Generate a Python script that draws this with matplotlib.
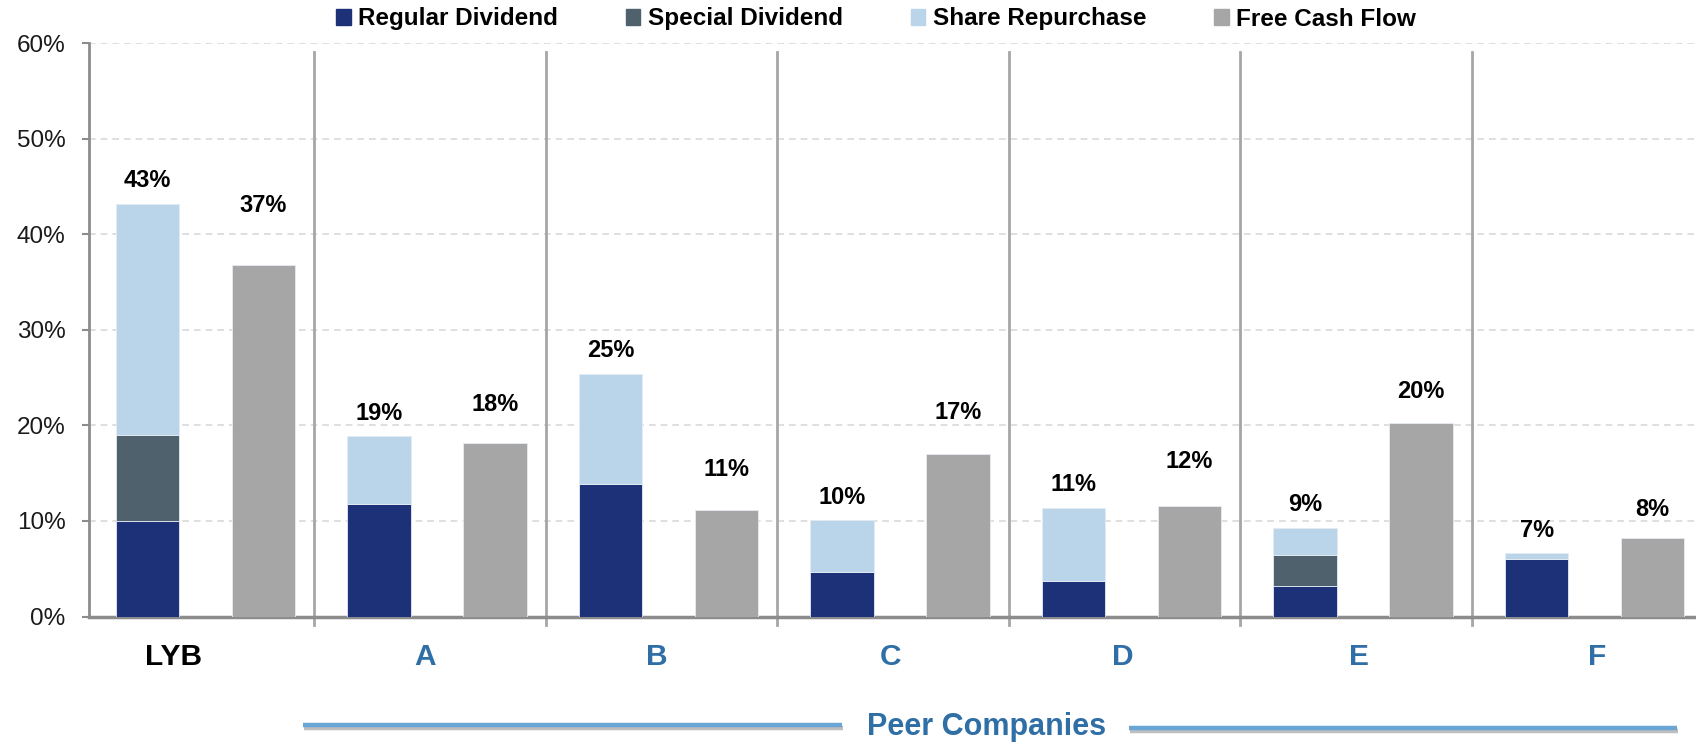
import numpy as np
import matplotlib
matplotlib.use("Agg")
import matplotlib.pyplot as plt
from matplotlib.patches import Patch
from matplotlib.lines import Line2D
import matplotlib.patheffects as pe

plt.rcParams.update({
    "font.family": ["Liberation Sans", "DejaVu Sans"],
    "figure.dpi": 100,
})

NAVY = "#1C3177"
SLATE = "#4F616D"
LIGHT = "#BAD5EA"
GRAY = "#A6A6A6"
BLUE_TXT = "#2F6FA6"
PEER_LINE = "#6AA6D5"

companies = ["LYB", "A", "B", "C", "D", "E", "F"]
regular = [10.0, 11.8, 13.9, 4.7, 3.7, 3.2, 6.0]
special = [9.0, 0.0, 0.0, 0.0, 0.0, 3.2, 0.0]
repurchase = [24.2, 7.1, 11.5, 5.4, 7.7, 2.9, 0.6]
fcf = [36.8, 18.2, 11.2, 17.0, 11.6, 20.3, 8.2]

# label gaps above each bar (in % units)
stack_gap = 2.4
fcf_gap = [6.2, 4.0, 4.2, 4.4, 4.6, 3.2, 3.0]
cat_dx = [-0.14, -0.05, -0.05, -0.04, -0.04, -0.02, 0.01]

W, H = 1696, 742
fig = plt.figure(figsize=(W / 100, H / 100), dpi=100)
ax = fig.add_axes([89 / W, 1 - 616.5 / H, 1 - 89 / W, (616.5 - 43.3) / H])

x = np.arange(len(companies))
bw = 0.274
off = 0.25
reg = np.array(regular)
spc = np.array(special)
rep = np.array(repurchase)

kw = dict(width=bw, edgecolor="#E4ECF3", linewidth=0.6, zorder=3)
ax.bar(x - off, reg, color=NAVY, **kw)
ax.bar(x - off, spc, bottom=reg, color=SLATE, **kw)
ax.bar(x - off, rep, bottom=reg + spc, color=LIGHT, **kw)
ax.bar(x + off, fcf, color=GRAY, **kw)

total = reg + spc + rep
for i in range(len(companies)):
    ax.text(x[i] - off, total[i] + stack_gap, f"{total[i]:.0f}%", ha="center", va="center",
            fontsize=17, fontweight="bold", color="black")
    ax.text(x[i] + off, fcf[i] + fcf_gap[i], f"{fcf[i]:.0f}%", ha="center", va="center",
            fontsize=17, fontweight="bold", color="black")

ax.set_xlim(-0.503, 6.438)
ax.set_ylim(0, 60)
ax.set_yticks(np.arange(0, 61, 10))
ax.set_yticklabels([f"{v}%" for v in range(0, 61, 10)])
ax.set_xticks([])
ax.tick_params(axis="y", length=5, width=1.5, color="#8C8C8C", pad=12, labelsize=17.5,
               labelcolor="#1A1A1A")
ax.yaxis.grid(True, ls=(0, (4, 3)), color="#D9D9D9", lw=1.2)
ax.set_axisbelow(True)
for s in ["top", "right"]:
    ax.spines[s].set_visible(False)
ax.spines["left"].set_color("#8C8C8C")
ax.spines["left"].set_linewidth(2)
ax.spines["bottom"].set_color("#8C8C8C")
ax.spines["bottom"].set_linewidth(2.5)

# group separators
for s in x[:-1] + 0.47:
    ax.axvline(s, ymin=-0.0157, ymax=0.984, color=GRAY, lw=2, clip_on=False, zorder=2)

# company names under groups
trans = ax.get_xaxis_transform()
for i, name in enumerate(companies):
    ax.text(x[i] + cat_dx[i], -0.0715, name, transform=trans, ha="center", va="center",
            fontsize=21.5, fontweight="bold", color="black" if i == 0 else BLUE_TXT)

# "Peer Companies" bracket
fig.text(986.5 / W, 1 - 727 / H, "Peer Companies", ha="center", va="center",
         fontsize=22, fontweight="bold", color=BLUE_TXT)
shadow = [pe.SimpleLineShadow(offset=(1, -2.5), shadow_color="#7F7F7F", alpha=0.5), pe.Normal()]
for x0, x1, yy in [(303, 842, 725), (1129, 1677, 728)]:
    fig.add_artist(Line2D([x0 / W, x1 / W], [1 - yy / H, 1 - yy / H], transform=fig.transFigure,
                          color=PEER_LINE, lw=3.2, solid_capstyle="butt", path_effects=shadow))

handles = [Patch(color=NAVY, label="Regular Dividend"),
           Patch(color=SLATE, label="Special Dividend"),
           Patch(color=LIGHT, label="Share Repurchase"),
           Patch(color=GRAY, label="Free Cash Flow")]
fig.legend(handles=handles, loc="center", bbox_to_anchor=(0.5165, 1 - 19 / H), ncol=4,
           frameon=False, prop={"size": 17.5, "weight": "bold"}, handlelength=0.6,
           handleheight=0.6, handletextpad=0.3, columnspacing=2.8, borderaxespad=0)

fig.savefig("out.png", dpi=100)
